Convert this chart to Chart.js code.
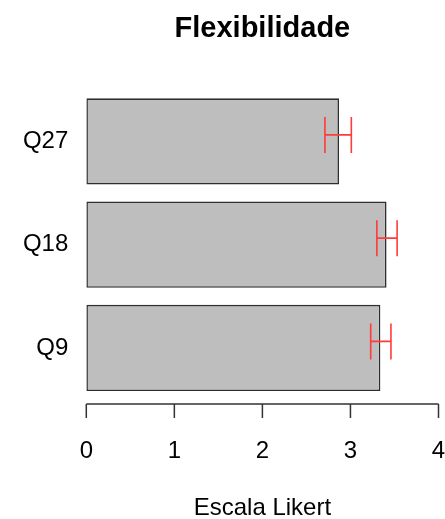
<!DOCTYPE html>
<html>
<head>
<meta charset="utf-8">
<title>Flexibilidade</title>
<script src="https://cdn.jsdelivr.net/npm/chart.js@4.4.1/dist/chart.umd.min.js"></script>
<style>
  html, body { margin: 0; padding: 0; background: #fff; }
  #wrap { width: 445px; height: 519px; }
</style>
</head>
<body>
<div id="wrap"><canvas id="flexChart"></canvas></div>
<script>
// values (means with error bars)
const questions = ['Q27', 'Q18', 'Q9'];
const means = [2.87, 3.41, 3.34];
const lowerCI = [2.71, 3.30, 3.23];
const upperCI = [3.01, 3.53, 3.46];
const xTicks = [0, 1, 2, 3, 4];

const FONT = '"Liberation Sans", Arial, Helvetica, sans-serif';

// R-style axis: sits a bit below the plot and only spans first..last tick
const rAxisPlugin = {
    id: 'rAxis',
    afterDraw(chart) {
        const x = chart.scales.x;
        const ctx = chart.ctx;
        const y0 = chart.chartArea.bottom + 4.5;
        ctx.save();
        ctx.strokeStyle = '#333';
        ctx.lineWidth = 1.5;
        ctx.beginPath();
        ctx.moveTo(x.getPixelForValue(xTicks[0]), y0);
        ctx.lineTo(x.getPixelForValue(xTicks[xTicks.length - 1]), y0);
        xTicks.forEach(t => {
            const px = x.getPixelForValue(t);
            ctx.moveTo(px, y0);
            ctx.lineTo(px, y0 + 14);
        });
        ctx.stroke();
        ctx.restore();
    }
};

// --- red error bars on top of each bar ---
const errorBarPlugin = {
    id: 'errorBars',
    afterDatasetsDraw(chart) {
        const x = chart.scales.x;
        const ctx = chart.ctx;
        const bars = chart.getDatasetMeta(0).data;
        ctx.save();
        ctx.strokeStyle = '#ff3b3b';
        ctx.lineWidth = 1.6;
        bars.forEach((bar, i) => {
            const yc = bar.y - 6.5;   // R draws them slightly above bar centre
            const x1 = x.getPixelForValue(lowerCI[i]);
            const x2 = x.getPixelForValue(upperCI[i]);
            ctx.beginPath();
            ctx.moveTo(x1, yc);
            ctx.lineTo(x2, yc);
            ctx.moveTo(x1, yc - 18);
            ctx.lineTo(x1, yc + 18);
            ctx.moveTo(x2, yc - 18);
            ctx.lineTo(x2, yc + 18);
            ctx.stroke();
        });
        ctx.restore();
    }
};

new Chart(document.getElementById('flexChart'), {
    type: 'bar',
    data: {
        labels: questions,
        datasets: [{
            data: means,
            backgroundColor: '#bebebe',
            borderColor: '#2e2e2e',
            borderWidth: 1.6,
            borderSkipped: false,
            categoryPercentage: 1.0,
            barPercentage: 0.835
        }]
    },
    plugins: [rAxisPlugin, errorBarPlugin],
    options: {
        indexAxis: 'y',
        responsive: true,
        maintainAspectRatio: false,
        animation: false,
        layout: {
            padding: { left: 0, right: 6.5, top: 0, bottom: 0 }
        },
        scales: {
            x: {
                type: 'linear',
                min: 0,
                max: 4,
                afterBuildTicks: function(scale) {
                    scale.ticks = xTicks.map(v => ({ value: v }));
                },
                afterFit: function(scale) {
                    scale.height = 119.5;
                    scale.paddingLeft = 0;
                    scale.paddingRight = 0;
                },
                grid: { display: false, drawTicks: false },
                border: { display: false },
                ticks: {
                    color: '#000',
                    padding: 37,
                    maxRotation: 0,
                    font: { family: FONT, size: 24 }
                },
                title: {
                    display: true,
                    text: 'Escala Likert',
                    color: '#000',
                    padding: { top: 0, bottom: -4 },
                    font: { family: FONT, size: 24 }
                }
            },
            y: {
                afterFit: function(scale) {
                    scale.width = 86.3;
                    scale.paddingTop = 0;
                    scale.paddingBottom = 0;
                },
                grid: { display: false, drawTicks: false },
                border: { display: false },
                ticks: {
                    color: '#000',
                    padding: 18,
                    font: { family: FONT, size: 24 }
                }
            }
        },
        plugins: {
            legend: { display: false },
            tooltip: { enabled: false },
            title: {
                display: true,
                text: 'Flexibilidade',
                fullSize: false,
                color: '#000',
                padding: { top: 12, bottom: 43 },
                font: { family: FONT, size: 29, weight: 'bold' }
            }
        }
    }
});
</script>
</body>
</html>
